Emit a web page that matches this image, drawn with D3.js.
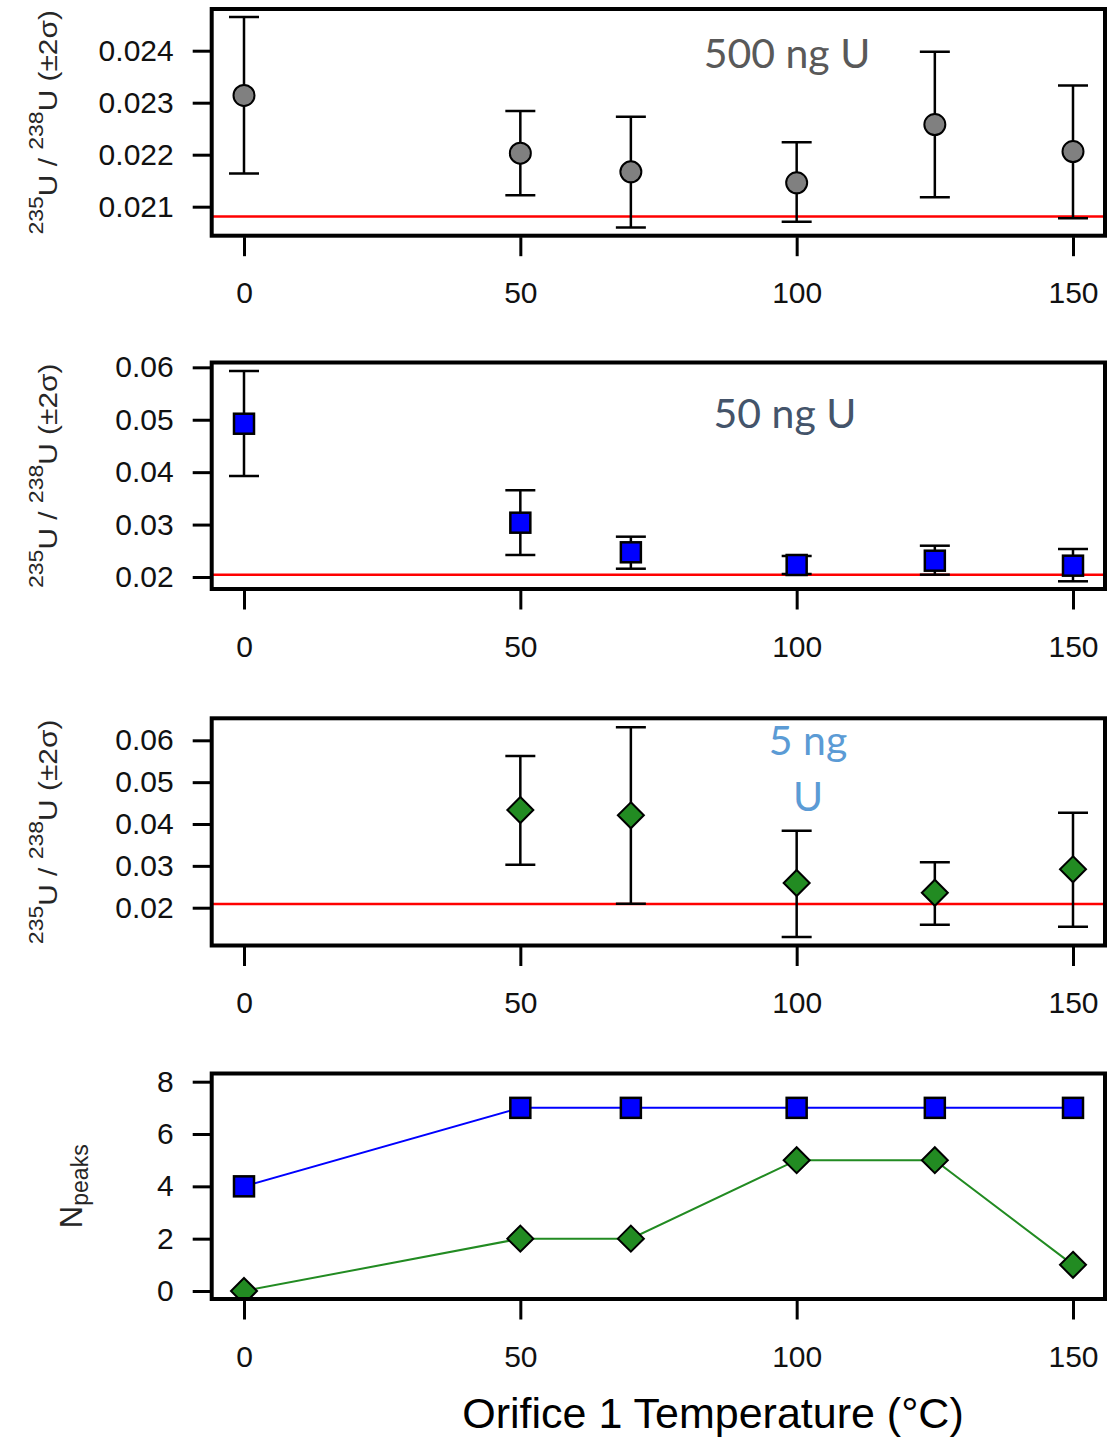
<!DOCTYPE html>
<html lang="en">
<head>
<meta charset="utf-8">
<title>Orifice 1 Temperature</title>
<style>
	body {
		margin: 0;
		padding: 0;
		background: #fff;
	}
	svg {
		display: block;
	}
	.tick text {
		font-family: 'Liberation Sans', Arial, sans-serif;
		font-size: 30px;
		fill: #111;
	}
	.tick line {
		stroke: #000;
		stroke-width: 3px;
	}
	.note {
		font-family: Lato, 'Open Sans', sans-serif;
		font-size: 41px;
	}
</style>
</head>
<body>
<svg id="chart" width="1107" height="1439"></svg>
<script src="https://cdnjs.cloudflare.com/ajax/libs/d3/7.8.5/d3.min.js"></script>
<script>
// data
var temps = [0, 50, 70, 100, 125, 150];
var xTicks = [0, 50, 100, 150];

var u500 = [0.02314, 0.02203, 0.02167, 0.02146, 0.02258, 0.02206];
var u500Lo = [0.02164, 0.02122, 0.02060, 0.02071, 0.02118, 0.02078];
var u500Hi = [0.02465, 0.02284, 0.02273, 0.02224, 0.02398, 0.02333];

var u50 = [0.04924, 0.03036, 0.02471, 0.02229, 0.02311, 0.02216];
var u50Lo = [0.03926, 0.02420, 0.02158, 0.02057, 0.02044, 0.01918];
var u50Hi = [0.05929, 0.03654, 0.02769, 0.02401, 0.02597, 0.02534];

var u5 = [null, 0.04335, 0.04208, 0.02590, 0.02358, 0.02918];
var u5Lo = [null, 0.03027, 0.02096, 0.01300, 0.01594, 0.01546];
var u5Hi = [null, 0.05625, 0.06311, 0.03840, 0.03085, 0.04270];

var peaks50 = [4, 7, 7, 7, 7, 7];
var peaks5 = [0, 2, 2, 5, 5, 1];

var refRatio = [0.02081, 0.02044, 0.02088];

var ratioTicks = [0.021, 0.022, 0.023, 0.024];
var ratioTicksWide = [0.02, 0.03, 0.04, 0.05, 0.06];
var peakTicks = [0, 2, 4, 6, 8];

var svg = d3.select('#chart'),
	left = 211.7,
	right = 1105;

var x = d3.scaleLinear().domain([0, 150]).range([244, 1073]);

function makePanel(id, top, bottom, domain, ticks, fmt) {
	var y = d3.scaleLinear().domain(domain).range([bottom, top]);
	var g = svg.append('g').attr('class', 'panel');

	g.append('clipPath').attr('id', 'clip' + id)
		.append('rect')
		.attr('x', left).attr('y', top)
		.attr('width', right - left).attr('height', bottom - top);

	var plot = g.append('g').attr('clip-path', 'url(#clip' + id + ')');

	g.append('g')
		.attr('transform', 'translate(' + left + ',0)')
		.call(d3.axisLeft(y).tickValues(ticks).tickFormat(fmt).tickSize(19).tickPadding(19).tickSizeOuter(0))
		.call(function (a) { a.select('.domain').remove(); });

	g.append('g')
		.attr('transform', 'translate(0,' + (bottom + 1.5) + ')')
		.call(d3.axisBottom(x).tickValues(xTicks).tickFormat(d3.format('d')).tickSize(19).tickPadding(26).tickSizeOuter(0))
		.call(function (a) { a.select('.domain').remove(); });

	return {g: g, plot: plot, y: y, top: top, bottom: bottom};
}

function drawFrame(p) {
	p.g.append('rect')
		.attr('x', left).attr('y', p.top)
		.attr('width', right - left).attr('height', p.bottom - p.top)
		.attr('fill', 'none')
		.attr('stroke', '#000')
		.attr('stroke-width', 4);
}

function refLine(p, v) {
	p.plot.append('line')
		.attr('x1', left).attr('x2', right)
		.attr('y1', p.y(v)).attr('y2', p.y(v))
		.attr('stroke', '#ff0000')
		.attr('stroke-width', 2.5);
}

function errorBars(p, lo, hi) {
	var rows = temps.map(function (t, i) { return {t: t, lo: lo[i], hi: hi[i]}; })
		.filter(function (d) { return d.lo !== null; });
	var eb = p.plot.append('g').attr('stroke', '#000').attr('stroke-width', 2.5);
	eb.selectAll('.stem').data(rows).enter().append('line')
		.attr('x1', function (d) { return x(d.t); })
		.attr('x2', function (d) { return x(d.t); })
		.attr('y1', function (d) { return p.y(d.lo); })
		.attr('y2', function (d) { return p.y(d.hi); });
	['lo', 'hi'].forEach(function (k) {
		eb.selectAll('.cap' + k).data(rows).enter().append('line')
			.attr('x1', function (d) { return x(d.t) - 15; })
			.attr('x2', function (d) { return x(d.t) + 15; })
			.attr('y1', function (d) { return p.y(d[k]); })
			.attr('y2', function (d) { return p.y(d[k]); });
	});
}

function points(p, vals, shape, fill, size) {
	var rows = temps.map(function (t, i) { return {t: t, v: vals[i]}; })
		.filter(function (d) { return d.v !== null; });
	var sel = p.plot.append('g').selectAll('.pt').data(rows).enter();
	if (shape === 'circle') {
		sel.append('circle')
			.attr('cx', function (d) { return x(d.t); })
			.attr('cy', function (d) { return p.y(d.v); })
			.attr('r', size)
			.attr('fill', fill).attr('stroke', '#000').attr('stroke-width', 2);
	} else if (shape === 'square') {
		sel.append('rect')
			.attr('x', function (d) { return x(d.t) - size; })
			.attr('y', function (d) { return p.y(d.v) - size; })
			.attr('width', size * 2).attr('height', size * 2)
			.attr('fill', fill).attr('stroke', '#000').attr('stroke-width', 2.5);
	} else {
		sel.append('path')
			.attr('d', 'M0,' + (-size) + 'L' + size + ',0L0,' + size + 'L' + (-size) + ',0Z')
			.attr('transform', function (d) { return 'translate(' + x(d.t) + ',' + p.y(d.v) + ')'; })
			.attr('fill', fill).attr('stroke', '#000').attr('stroke-width', 2);
	}
}

// 235U/238U (±2σ), stretched a little along its length like the original
function ratioLabel(p) {
	var t = p.g.append('text')
		.attr('transform', 'translate(57,' + ((p.top + p.bottom) / 2) + ') rotate(-90) scale(1.15,1)')
		.attr('text-anchor', 'middle')
		.attr('font-family', "'Liberation Sans', Arial, sans-serif")
		.attr('font-size', 26)
		.attr('fill', '#262626');
	t.append('tspan').attr('font-size', 20).attr('dy', -14).text('235');
	t.append('tspan').attr('dy', 14).text('U / ');
	t.append('tspan').attr('font-size', 20).attr('dy', -14).text('238');
	t.append('tspan').attr('dy', 14).text('U (±2σ)');
}

var fmt3 = d3.format('.3f'), fmt2 = d3.format('.2f');

// 500 ng U
var p1 = makePanel(1, 9, 235.7, [0.020442, 0.024802], ratioTicks, fmt3);
refLine(p1, refRatio[0]);
errorBars(p1, u500Lo, u500Hi);
points(p1, u500, 'circle', '#808080', 10.5);
drawFrame(p1);
ratioLabel(p1);
p1.g.append('text').attr('class', 'note').attr('x', 787).attr('y', 68)
	.attr('text-anchor', 'middle').attr('fill', '#595959').text('500 ng U');

// 50 ng U
var p2 = makePanel(2, 362.5, 589, [0.01771, 0.06092], ratioTicksWide, fmt2);
refLine(p2, refRatio[1]);
errorBars(p2, u50Lo, u50Hi);
points(p2, u50, 'square', '#0000ff', 10);
drawFrame(p2);
ratioLabel(p2);
p2.g.append('text').attr('class', 'note').attr('x', 785).attr('y', 428)
	.attr('text-anchor', 'middle').attr('fill', '#44546a').text('50 ng U');

// 5 ng U
var p3 = makePanel(3, 718.3, 945.5, [0.01097, 0.06526], ratioTicksWide, fmt2);
refLine(p3, refRatio[2]);
errorBars(p3, u5Lo, u5Hi);
points(p3, u5, 'diamond', '#228b22', 13);
drawFrame(p3);
ratioLabel(p3);
p3.g.append('text').attr('class', 'note').attr('x', 808).attr('y', 755)
	.attr('text-anchor', 'middle').attr('fill', '#5b9bd5').text('5 ng');
p3.g.append('text').attr('class', 'note').attr('x', 808).attr('y', 811)
	.attr('text-anchor', 'middle').attr('fill', '#5b9bd5').text('U');

// number of peaks
var p4 = makePanel(4, 1073.5, 1299, [-0.306, 8.313], peakTicks, d3.format('d'));
[[peaks50, '#0000ff'], [peaks5, '#228b22']].forEach(function (s) {
	p4.plot.append('path')
		.datum(s[0])
		.attr('fill', 'none')
		.attr('stroke', s[1])
		.attr('stroke-width', 2)
		.attr('d', d3.line()
			.x(function (d, i) { return x(temps[i]); })
			.y(function (d) { return p4.y(d); }));
});
points(p4, peaks50, 'square', '#0000ff', 10);
points(p4, peaks5, 'diamond', '#228b22', 13);
drawFrame(p4);

var np = p4.g.append('text')
	.attr('transform', 'translate(82,' + ((p4.top + p4.bottom) / 2) + ') rotate(-90)')
	.attr('text-anchor', 'middle')
	.attr('font-family', "'Liberation Sans', Arial, sans-serif")
	.attr('font-size', 31)
	.attr('fill', '#262626');
np.append('tspan').text('N');
np.append('tspan').attr('font-size', 23).attr('dy', 6).text('peaks');

svg.append('text')
	.attr('x', 713).attr('y', 1428)
	.attr('text-anchor', 'middle')
	.attr('font-family', "'Liberation Sans', Arial, sans-serif")
	.attr('font-size', 43)
	.attr('fill', '#000')
	.text('Orifice 1 Temperature (°C)');
</script>
</body>
</html>
